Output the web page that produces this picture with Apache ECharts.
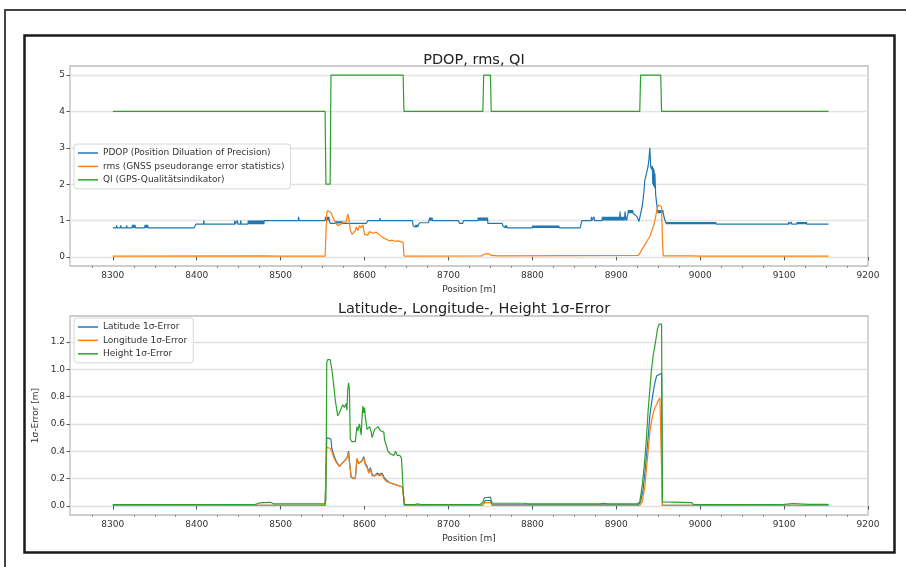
<!DOCTYPE html>
<html>
<head>
<meta charset="utf-8">
<script src="https://cdn.jsdelivr.net/npm/echarts@6/dist/echarts.min.js"></script>
<style>
  html, body { margin: 0; padding: 0; background: #fff; }
  #main { width: 906px; height: 567px; }
</style>
</head>
<body>
<div id="main"></div>
<script>
var myChart = echarts.init(document.getElementById('main'));

// tick labels
var posTicks = [8300, 8400, 8500, 8600, 8700, 8800, 8900, 9000, 9100, 9200];
var posMinor = [8275, 8325, 8350, 8375, 8425, 8450, 8475, 8525, 8550, 8575, 8625, 8650, 8675,
  8725, 8750, 8775, 8825, 8850, 8875, 8925, 8950, 8975, 9025, 9050, 9075, 9125, 9150, 9175];
var topTicks = [0, 1, 2, 3, 4, 5];
var errTicks = [0, 0.2, 0.4, 0.6, 0.8, 1.0, 1.2];

// PDOP, rms, QI  [position, value]
var pdop = [
  [8300, 0.8], [8304, 0.8], [8304.5, 0.87], [8305, 0.8], [8309, 0.8], [8309.5, 0.87], [8310, 0.8], [8316, 0.8], [8316.5, 0.87], [8317, 0.8],
  [8323, 0.8], [8323.5, 0.88], [8324, 0.8], [8324.5, 0.88], [8325, 0.8], [8325.5, 0.88], [8326, 0.8], [8326.5, 0.88], [8327, 0.8],
  [8338, 0.8], [8338.5, 0.88], [8339, 0.8], [8339.5, 0.88], [8340, 0.8], [8340.5, 0.88], [8341, 0.8], [8341.5, 0.88], [8342, 0.8],
  [8397, 0.8], [8399, 0.9], [8408, 0.9], [8408.5, 1.0], [8409, 0.9],
  [8445, 0.9], [8445.5, 1.0], [8446, 0.9], [8448, 0.9], [8448.5, 1.0], [8449, 0.9], [8452, 0.9], [8452.5, 1.0], [8453, 0.9],
  [8461, 0.9], [8461.5, 1], [8462, 0.9], [8462.5, 1], [8463, 0.9], [8463.5, 1], [8464, 0.9], [8464.5, 1], [8465, 0.9], [8465.5, 1],
  [8466, 0.9], [8466.5, 1], [8467, 0.9], [8467.5, 1], [8468, 0.9], [8468.5, 1], [8469, 0.9], [8469.5, 1], [8470, 0.9], [8470.5, 1],
  [8471, 0.9], [8471.5, 1], [8472, 0.9], [8472.5, 1], [8473, 0.9], [8473.5, 1], [8474, 0.9], [8474.5, 1], [8475, 0.9], [8475.5, 1],
  [8476, 0.9], [8476.5, 1], [8477, 0.9], [8477.5, 1], [8478, 0.9], [8478.5, 1], [8479, 0.9], [8479.5, 1], [8480, 0.9], [8480.5, 1], [8481, 1],
  [8521, 1.0], [8521.5, 1.1], [8522, 1.0],
  [8553, 1.0], [8553.5, 1.1], [8554, 1.0], [8554.5, 1.1], [8555, 1.0], [8555.5, 1.1], [8556, 1.0], [8556.5, 1.1], [8557, 1.0], [8557.5, 1.1], [8558, 1.0], [8559, 0.92],
  [8565, 0.92], [8565.5, 0.98], [8566, 0.92], [8566.5, 0.98], [8567, 0.92], [8567.5, 0.98], [8568, 0.92], [8568.5, 0.98], [8569, 0.92], [8569.5, 0.98],
  [8570, 0.92], [8570.5, 0.98], [8571, 0.92], [8571.5, 0.98], [8572, 0.92], [8572.5, 0.98], [8573, 0.92], [8573.5, 0.98], [8574, 0.92], [8575, 0.92],
  [8602, 0.92], [8604, 1.0], [8618, 1.0], [8618.5, 1.07], [8619, 1.0],
  [8657, 1.0], [8658, 0.85], [8658.5, 0.82], [8659, 0.88], [8659.5, 0.82], [8660, 0.88], [8660.5, 0.82], [8661, 0.88], [8661.5, 0.82], [8662, 0.88],
  [8662.5, 0.82], [8663, 0.88], [8663.5, 0.82], [8664, 0.88], [8665, 0.85], [8666, 0.94],
  [8676, 0.94], [8677, 1.0], [8677.5, 1.08], [8678, 1.0], [8678.5, 1.08], [8679, 1.0], [8679.5, 1.08], [8680, 1.0], [8680.5, 1.08], [8681, 1.0],
  [8712, 1.0], [8713, 0.92], [8717, 0.92], [8718, 1.0],
  [8735, 1.0], [8735.5, 1.08], [8736, 1.0], [8736.5, 1.08], [8737, 1.0], [8737.5, 1.08], [8738, 1.0], [8738.5, 1.08], [8739, 1.0], [8739.5, 1.08],
  [8740, 1.0], [8740.5, 1.08], [8741, 1.0], [8741.5, 1.08], [8742, 1.0], [8742.5, 1.08], [8743, 1.0], [8743.5, 1.08], [8744, 1.0], [8744.5, 1.08],
  [8745, 1.0], [8745.5, 1.08], [8746, 1.0], [8746.5, 1.08], [8747, 0.92],
  [8764, 0.92], [8765, 0.85], [8765.5, 0.8], [8766, 0.87], [8766.5, 0.8], [8767, 0.87], [8767.5, 0.8], [8768, 0.87], [8768.5, 0.8], [8769, 0.87], [8770, 0.8],
  [8800, 0.8], [8800.5, 0.86], [8801, 0.8], [8801.5, 0.86], [8802, 0.8], [8802.5, 0.86], [8803, 0.8], [8803.5, 0.86], [8804, 0.8], [8804.5, 0.86],
  [8805, 0.8], [8805.5, 0.86], [8806, 0.8], [8806.5, 0.86], [8807, 0.8], [8807.5, 0.86], [8808, 0.8], [8808.5, 0.86], [8809, 0.8], [8809.5, 0.86],
  [8810, 0.8], [8810.5, 0.86], [8811, 0.8], [8811.5, 0.86], [8812, 0.8], [8812.5, 0.86], [8813, 0.8], [8813.5, 0.86], [8814, 0.8], [8814.5, 0.86],
  [8815, 0.8], [8815.5, 0.86], [8816, 0.8], [8816.5, 0.86], [8817, 0.8], [8817.5, 0.86], [8818, 0.8], [8818.5, 0.86], [8819, 0.8], [8819.5, 0.86],
  [8820, 0.8], [8820.5, 0.86], [8821, 0.8], [8821.5, 0.86], [8822, 0.8], [8822.5, 0.86], [8823, 0.8], [8823.5, 0.86], [8824, 0.8], [8824.5, 0.86],
  [8825, 0.8], [8825.5, 0.86], [8826, 0.8], [8826.5, 0.86], [8827, 0.8], [8827.5, 0.86], [8828, 0.8], [8828.5, 0.86], [8829, 0.8], [8829.5, 0.86],
  [8830, 0.8], [8830.5, 0.86], [8831, 0.8], [8831.5, 0.86], [8832, 0.8],
  [8857, 0.8], [8859, 1.0], [8870, 1.0], [8870.5, 1.1], [8871, 1.0], [8873, 1.0], [8873.5, 1.1], [8874, 1.0],
  [8883, 1.0], [8883.5, 1.1], [8884, 1.0], [8884.5, 1.1], [8885, 1.0], [8885.5, 1.1], [8886, 1.0], [8886.5, 1.1], [8887, 1.0], [8887.5, 1.1],
  [8888, 1.0], [8888.5, 1.1], [8889, 1.0], [8889.5, 1.1], [8890, 1.0], [8890.5, 1.1], [8891, 1.0], [8891.5, 1.1], [8892, 1.0], [8892.5, 1.1],
  [8893, 1.0], [8893.5, 1.1], [8894, 1.0], [8894.5, 1.1], [8895, 1.0], [8895.5, 1.1], [8896, 1.0], [8896.5, 1.1], [8897, 1.0], [8897.5, 1.1],
  [8898, 1.0], [8898.5, 1.1], [8899, 1.0], [8899.5, 1.1], [8900, 1.0], [8900.5, 1.1], [8901, 1.0], [8901.5, 1.1], [8902, 1.0], [8902.5, 1.1],
  [8903, 1.0], [8903.5, 1.1], [8904, 1.0], [8904.5, 1.25], [8905, 1.1], [8905.5, 1.0], [8906, 1.1], [8906.5, 1.0], [8907, 1.1], [8907.5, 1.0],
  [8908, 1.1], [8908.5, 1.0], [8909, 1.1], [8909.5, 1.0], [8910, 1.1], [8910.5, 1.25], [8911, 1.1], [8911.5, 1.0], [8912, 1.1], [8912.5, 1.0],
  [8913, 1.1], [8914, 1.2], [8914.5, 1.29], [8915, 1.2], [8915.5, 1.29], [8916, 1.2], [8916.5, 1.29], [8917, 1.2], [8917.5, 1.29], [8918, 1.2],
  [8918.5, 1.29], [8919, 1.2], [8919.5, 1.29], [8920, 1.2], [8922, 1.2], [8925, 1.1], [8927, 0.97], [8929, 1.0],
  [8931, 1.4], [8933, 1.8], [8934, 2.1], [8936, 2.3], [8938, 2.5], [8939, 2.7], [8940, 3.0], [8941, 2.5], [8942, 2.4], [8943, 2.5],
  [8943.5, 2.0], [8944, 2.45], [8944.5, 1.95], [8945, 2.4], [8945.5, 1.9], [8946, 2.3], [8947, 1.7], [8948, 1.5], [8949, 1.3], [8950, 1.2],
  [8950.5, 1.29], [8951, 1.2], [8951.5, 1.29], [8952, 1.2], [8952.5, 1.29], [8953, 1.2], [8953.5, 1.29], [8954, 1.2], [8954.5, 1.29], [8955, 1.2],
  [8955.5, 1.29], [8956, 1.2], [8957, 1.2], [8958, 1.0], [8959, 0.96],
  [8960, 0.9], [8960.5, 0.96], [8961, 0.9], [8961.5, 0.96], [8962, 0.9], [8962.5, 0.96], [8963, 0.9], [8963.5, 0.96], [8964, 0.9], [8964.5, 0.96],
  [8965, 0.9], [8965.5, 0.96], [8966, 0.9], [8966.5, 0.96], [8967, 0.9], [8967.5, 0.96], [8968, 0.9], [8968.5, 0.96], [8969, 0.9], [8969.5, 0.96],
  [8970, 0.9], [8970.5, 0.96], [8971, 0.9], [8971.5, 0.96], [8972, 0.9], [8972.5, 0.96], [8973, 0.9], [8973.5, 0.96], [8974, 0.9], [8974.5, 0.96],
  [8975, 0.9], [8975.5, 0.96], [8976, 0.9], [8976.5, 0.96], [8977, 0.9], [8977.5, 0.96], [8978, 0.9], [8978.5, 0.96], [8979, 0.9], [8979.5, 0.96],
  [8980, 0.9], [8980.5, 0.96], [8981, 0.9], [8981.5, 0.96], [8982, 0.9], [8982.5, 0.96], [8983, 0.9], [8983.5, 0.96], [8984, 0.9], [8984.5, 0.96],
  [8985, 0.9], [8985.5, 0.96], [8986, 0.9], [8986.5, 0.96], [8987, 0.9], [8987.5, 0.96], [8988, 0.9], [8988.5, 0.96], [8989, 0.9], [8989.5, 0.96],
  [8990, 0.9], [8990.5, 0.96], [8991, 0.9], [8991.5, 0.96], [8992, 0.9], [8992.5, 0.96], [8993, 0.9], [8993.5, 0.96], [8994, 0.9], [8994.5, 0.96],
  [8995, 0.9], [8995.5, 0.96], [8996, 0.9], [8996.5, 0.96], [8997, 0.9], [8997.5, 0.96], [8998, 0.9], [8998.5, 0.96], [8999, 0.9], [8999.5, 0.96],
  [9000, 0.9], [9000.5, 0.96], [9001, 0.9], [9001.5, 0.96], [9002, 0.9], [9002.5, 0.96], [9003, 0.9], [9003.5, 0.96], [9004, 0.9], [9004.5, 0.96],
  [9005, 0.9], [9005.5, 0.96], [9006, 0.9], [9006.5, 0.96], [9007, 0.9], [9007.5, 0.96], [9008, 0.9], [9008.5, 0.96], [9009, 0.9], [9009.5, 0.96],
  [9010, 0.9], [9010.5, 0.96], [9011, 0.9], [9011.5, 0.96], [9012, 0.9], [9012.5, 0.96], [9013, 0.9], [9013.5, 0.96], [9014, 0.9], [9014.5, 0.96],
  [9015, 0.9], [9015.5, 0.96], [9016, 0.9], [9016.5, 0.96], [9017, 0.9], [9017.5, 0.96], [9018, 0.9], [9018.5, 0.96], [9019, 0.9],
  [9105, 0.9], [9105.5, 0.96], [9106, 0.9], [9108, 0.9], [9108.5, 0.96], [9109, 0.9],
  [9115, 0.9], [9115.5, 0.96], [9116, 0.9], [9116.5, 0.96], [9117, 0.9], [9117.5, 0.96], [9118, 0.9], [9118.5, 0.96], [9119, 0.9], [9119.5, 0.96],
  [9120, 0.9], [9120.5, 0.96], [9121, 0.9], [9121.5, 0.96], [9122, 0.9], [9122.5, 0.96], [9123, 0.9], [9123.5, 0.96], [9124, 0.9], [9124.5, 0.96],
  [9125, 0.9], [9125.5, 0.96], [9126, 0.9], [9126.5, 0.96], [9127, 0.9], [9128, 0.9], [9153, 0.9]
];
var rms = [
  [8300, 0.02], [8480, 0.03], [8500, 0.02], [8553, 0.02], [8555, 1.2], [8556, 1.27], [8558, 1.25], [8560, 1.22], [8562, 1.1],
  [8564, 1.0], [8566, 0.95], [8568, 0.86], [8570, 0.85], [8572, 0.9], [8574, 0.96], [8576, 0.92], [8578, 0.95], [8580, 1.18],
  [8581, 1.1], [8583, 0.75], [8585, 0.62], [8587, 0.66], [8589, 0.72], [8590, 0.82], [8592, 0.72], [8594, 0.86], [8596, 0.8],
  [8598, 0.88], [8600, 0.62], [8602, 0.66], [8604, 0.6], [8606, 0.7], [8608, 0.66], [8610, 0.65], [8612, 0.62], [8614, 0.68],
  [8616, 0.66], [8618, 0.6], [8620, 0.58], [8622, 0.53], [8624, 0.48], [8627, 0.47], [8630, 0.44], [8633, 0.46], [8636, 0.43],
  [8640, 0.44], [8643, 0.42], [8646, 0.4], [8647, 0.03], [8650, 0.02], [8740, 0.03], [8743, 0.08], [8748, 0.09], [8751, 0.04],
  [8760, 0.03], [8926, 0.04], [8928, 0.1], [8931, 0.22], [8934, 0.33], [8937, 0.45], [8940, 0.56], [8942, 0.7], [8944, 0.83],
  [8946, 1.0], [8948, 1.24], [8950, 1.43], [8952, 1.46], [8954, 1.38], [8955, 0.5], [8956, 0.03], [8990, 0.03], [9000, 0.02], [9153, 0.02]
];
var qi = [
  [8300, 4], [8553, 4], [8554, 2], [8559, 2], [8560, 5], [8646, 5], [8647, 4], [8741, 4], [8742, 5], [8750, 5], [8751, 4],
  [8928, 4], [8929, 5], [8953, 5], [8954, 4], [9153, 4]
];

// 1-sigma errors [position, metres]
var latErr = [
  [8300, 0.005], [8553, 0.005], [8555, 0.5], [8560, 0.49], [8561, 0.42], [8563, 0.38], [8566, 0.33], [8570, 0.29], [8573, 0.31],
  [8576, 0.33], [8579, 0.35], [8581, 0.4], [8582, 0.33], [8584, 0.21], [8589, 0.2], [8590, 0.27], [8591, 0.34], [8593, 0.31],
  [8595, 0.3], [8597, 0.33], [8599, 0.36], [8601, 0.31], [8603, 0.29], [8605, 0.25], [8607, 0.28], [8609, 0.23], [8612, 0.22],
  [8615, 0.24], [8618, 0.23], [8621, 0.24], [8623, 0.21], [8626, 0.19], [8630, 0.17], [8635, 0.16], [8640, 0.15], [8645, 0.14],
  [8647, 0.14], [8648, 0.005], [8740, 0.005], [8742, 0.02], [8744, 0.04], [8750, 0.04], [8752, 0.008], [8926, 0.008], [8929, 0.03],
  [8932, 0.12], [8935, 0.3], [8938, 0.5], [8940, 0.66], [8942, 0.75], [8944, 0.83], [8946, 0.9], [8948, 0.95], [8950, 0.96],
  [8954, 0.97], [8955, 0.005], [9153, 0.005]
];
var lonErr = [
  [8300, 0.005], [8553, 0.005], [8555, 0.43], [8559, 0.42], [8561, 0.4], [8563, 0.36], [8566, 0.32], [8570, 0.29], [8573, 0.31],
  [8576, 0.33], [8579, 0.35], [8581, 0.39], [8582, 0.32], [8584, 0.22], [8586, 0.2], [8589, 0.2], [8590, 0.28], [8591, 0.35],
  [8593, 0.31], [8595, 0.3], [8597, 0.33], [8599, 0.35], [8601, 0.3], [8603, 0.28], [8605, 0.24], [8607, 0.27], [8609, 0.22],
  [8612, 0.22], [8615, 0.23], [8618, 0.22], [8621, 0.23], [8623, 0.2], [8626, 0.18], [8630, 0.17], [8635, 0.16], [8640, 0.15],
  [8645, 0.14], [8647, 0.13], [8648, 0.005], [8740, 0.005], [8742, 0.01], [8744, 0.025], [8750, 0.025], [8752, 0.005], [8928, 0.005],
  [8931, 0.03], [8934, 0.14], [8936, 0.27], [8938, 0.4], [8940, 0.54], [8942, 0.62], [8944, 0.68], [8946, 0.72], [8948, 0.74],
  [8950, 0.77], [8952, 0.79], [8954, 0.79], [8955, 0.005], [9153, 0.005]
];
var hgtErr = [
  [8300, 0.01], [8470, 0.012], [8475, 0.022], [8480, 0.025], [8488, 0.027], [8492, 0.015], [8553, 0.015], [8554, 0.05], [8555, 1.05],
  [8556, 1.07], [8559, 1.07], [8561, 1.0], [8563, 0.9], [8565, 0.78], [8568, 0.66], [8570, 0.68], [8572, 0.71], [8574, 0.74],
  [8576, 0.72], [8578, 0.75], [8579, 0.7], [8580, 0.85], [8581, 0.9], [8582, 0.85], [8583, 0.49], [8585, 0.47], [8589, 0.47],
  [8591, 0.58], [8592, 0.55], [8594, 0.6], [8596, 0.52], [8597, 0.64], [8598, 0.73], [8599, 0.68], [8600, 0.72], [8601, 0.65],
  [8603, 0.56], [8605, 0.55], [8606, 0.58], [8608, 0.54], [8609, 0.5], [8612, 0.56], [8614, 0.55], [8616, 0.58], [8618, 0.57],
  [8619, 0.55], [8621, 0.54], [8623, 0.54], [8624, 0.48], [8626, 0.44], [8628, 0.4], [8631, 0.38], [8633, 0.39], [8635, 0.37],
  [8637, 0.4], [8639, 0.37], [8642, 0.37], [8644, 0.35], [8646, 0.34], [8647, 0.01], [8660, 0.01], [8663, 0.015], [8667, 0.01],
  [8738, 0.012], [8741, 0.03], [8743, 0.06], [8750, 0.065], [8752, 0.02], [8790, 0.02], [8795, 0.015], [8880, 0.015], [8885, 0.02],
  [8890, 0.015], [8925, 0.015], [8928, 0.03], [8931, 0.15], [8934, 0.34], [8936, 0.5], [8938, 0.7], [8940, 0.85], [8942, 1.0],
  [8944, 1.1], [8946, 1.17], [8948, 1.25], [8949, 1.29], [8951, 1.33], [8954, 1.33], [8955, 0.03], [8990, 0.025], [8992, 0.01],
  [9100, 0.012], [9110, 0.018], [9130, 0.012], [9153, 0.012]
];

var FONT = 'DejaVu Sans';
var C_BLUE = '#1f77b4', C_ORANGE = '#ff7f0e', C_GREEN = '#2ca02c';

//x轴（主刻度）
function posAxis (gridIndex) {
  return {
    type: 'value', gridIndex: gridIndex, position: 'bottom', min: 8249, max: 9200,
    name: 'Position [m]', nameLocation: 'middle', nameGap: 19,
    nameTextStyle: { fontFamily: FONT, fontSize: 9, color: '#333' },
    axisLine: { show: false },
    axisTick: { show: true, length: 3.5, customValues: posTicks, lineStyle: { color: '#555', width: 1 } },
    axisLabel: { customValues: posTicks, fontFamily: FONT, fontSize: 9, color: '#333', margin: 5,
      formatter: function (v) { return String(v); } },
    splitLine: { show: false }
  };
}
//x轴（副刻度）
function minorAxis (gridIndex) {
  return {
    type: 'value', gridIndex: gridIndex, position: 'bottom', min: 8249, max: 9200,
    axisLine: { show: false },
    axisTick: { show: true, length: 2, customValues: posMinor, lineStyle: { color: '#777', width: 0.8 } },
    axisLabel: { show: false },
    splitLine: { show: false }
  };
}
function lineSeries (name, data, color, xi, yi) {
  return {
    name: name, type: 'line', data: data, xAxisIndex: xi, yAxisIndex: yi,
    symbol: 'none', showSymbol: false, animation: false, sampling: 'none',
    lineStyle: { color: color, width: 1.2 }, itemStyle: { color: color }
  };
}

var legendBase = {
  orient: 'vertical', left: 74, icon: 'rect', itemWidth: 20, itemHeight: 1.5, itemGap: 3.4,
  padding: [4, 6, 4, 4], borderColor: '#d8d8d8', borderWidth: 1, borderRadius: 3,
  backgroundColor: 'rgba(255,255,255,0.85)',
  textStyle: { fontFamily: FONT, fontSize: 9, color: '#333', lineHeight: 10 }
};

var option = {
  backgroundColor: '#fff',
  animation: false,
  textStyle: { fontFamily: FONT },
  title: [
    { text: 'PDOP, rms, QI', left: 469, top: 48, textAlign: 'center',
      textStyle: { fontFamily: FONT, fontSize: 14.5, fontWeight: 'normal', color: '#222' } },
    { text: 'Latitude-, Longitude-, Height 1σ-Error', left: 469, top: 297, textAlign: 'center',
      textStyle: { fontFamily: FONT, fontSize: 14.5, fontWeight: 'normal', color: '#222' } }
  ],
  legend: [
    Object.assign({}, legendBase, { top: 144, data: ['PDOP (Position Diluation of Precision)', 'rms (GNSS pseudorange error statistics)', 'QI (GPS-Qualitätsindikator)'] }),
    Object.assign({}, legendBase, { top: 318, data: ['Latitude 1σ-Error', 'Longitude 1σ-Error', 'Height 1σ-Error'] })
  ],
  grid: [
    { left: 70, top: 66, width: 798, height: 200, show: true, borderColor: '#bdbdbd', borderWidth: 1.3, backgroundColor: 'transparent' },
    { left: 70, top: 316, width: 798, height: 199, show: true, borderColor: '#bdbdbd', borderWidth: 1.3, backgroundColor: 'transparent' }
  ],
  xAxis: [posAxis(0), posAxis(1), minorAxis(0), minorAxis(1)],
  yAxis: [
    {
      type: 'value', gridIndex: 0, min: -0.25, max: 5.25,
      axisLine: { show: false },
      axisTick: { show: true, length: 3.5, customValues: topTicks, lineStyle: { color: '#555' } },
      axisLabel: { customValues: topTicks, fontFamily: FONT, fontSize: 9, color: '#333', margin: 5 },
      splitLine: { show: true, lineStyle: { color: '#e3e3e3', width: 1.4 } }
    },
    {
      type: 'value', gridIndex: 1, min: -0.066, max: 1.389,
      name: '1σ-Error [m]', nameLocation: 'middle', nameGap: 27, nameRotate: 90,
      nameTextStyle: { fontFamily: FONT, fontSize: 9, color: '#333' },
      axisLine: { show: false },
      axisTick: { show: true, length: 3.5, customValues: errTicks, lineStyle: { color: '#555' } },
      axisLabel: { customValues: errTicks, fontFamily: FONT, fontSize: 9, color: '#333', margin: 5,
        formatter: function (v) { return v.toFixed(1); } },
      splitLine: { show: true, lineStyle: { color: '#e0e0e0', width: 1.4 } }
    }
  ],
  graphic: [
    { type: 'polyline', silent: true, shape: { points: [[5, 567], [5, 10], [906, 10]] }, style: { stroke: '#444', lineWidth: 2, fill: null } },
    { type: 'rect', silent: true, shape: { x: 24.5, y: 35.5, width: 870, height: 517 }, style: { stroke: '#1a1a1a', lineWidth: 2.5, fill: null } }
  ],
  series: [
    lineSeries('PDOP (Position Diluation of Precision)', pdop, C_BLUE, 0, 0),
    lineSeries('rms (GNSS pseudorange error statistics)', rms, C_ORANGE, 0, 0),
    lineSeries('QI (GPS-Qualitätsindikator)', qi, C_GREEN, 0, 0),
    lineSeries('Latitude 1σ-Error', latErr, C_BLUE, 1, 1),
    lineSeries('Longitude 1σ-Error', lonErr, C_ORANGE, 1, 1),
    lineSeries('Height 1σ-Error', hgtErr, C_GREEN, 1, 1)
  ]
};

myChart.setOption(option, true);
</script>
</body>
</html>
